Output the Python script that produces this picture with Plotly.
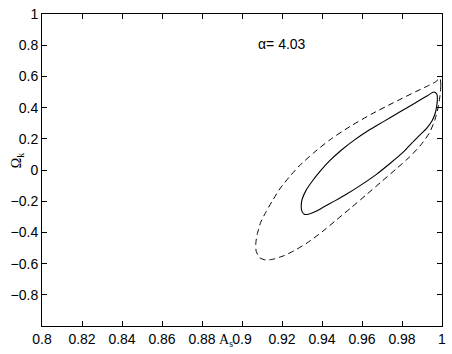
import plotly.graph_objects as go

# Inner (solid) contour
inner_x = [0.9959, 0.9974, 0.9977, 0.9974, 0.9966, 0.9949, 0.9924, 0.9890, 0.9850,
           0.9806, 0.9746, 0.9672, 0.9598, 0.9524, 0.9464, 0.9410, 0.9370, 0.9336,
           0.9311, 0.9299, 0.9296, 0.9301, 0.9321, 0.9351, 0.9390, 0.9440, 0.9499,
           0.9563, 0.9632, 0.9707, 0.9786, 0.9870, 0.9929, 0.9959]
inner_y = [0.500, 0.487, 0.459, 0.414, 0.364, 0.313, 0.269, 0.225, 0.174,
           0.114, 0.048, -0.028, -0.094, -0.154, -0.198, -0.236, -0.265, -0.282,
           -0.284, -0.262, -0.230, -0.186, -0.129, -0.072, -0.009, 0.061, 0.130,
           0.193, 0.253, 0.310, 0.370, 0.433, 0.478, 0.500]

# Outer (dashed) contour
outer_x = [0.9990, 0.9994, 0.9990, 0.9981, 0.9964, 0.9937, 0.9895, 0.9840, 0.9771,
           0.9697, 0.9623, 0.9548, 0.9474, 0.9400, 0.9326, 0.9261, 0.9210, 0.9158,
           0.9118, 0.9088, 0.9071, 0.9069, 0.9076, 0.9093, 0.9120, 0.9153, 0.9192,
           0.9237, 0.9286, 0.9359, 0.9441, 0.9540, 0.9647, 0.9755, 0.9870, 0.9929,
           0.9969, 0.9990]
outer_y = [0.589, 0.543, 0.478, 0.402, 0.320, 0.238, 0.162, 0.086, 0.007,
           -0.075, -0.157, -0.239, -0.318, -0.397, -0.467, -0.517, -0.549, -0.571,
           -0.577, -0.562, -0.521, -0.470, -0.413, -0.337, -0.268, -0.195, -0.116,
           -0.044, 0.026, 0.111, 0.195, 0.279, 0.358, 0.430, 0.503, 0.539,
           0.566, 0.589]

x_ticks = [0.8, 0.82, 0.84, 0.86, 0.88, 0.9, 0.92, 0.94, 0.96, 0.98, 1.0]
x_labels = ["0.8", "0.82", "0.84", "0.86", "0.88", "0.9", "0.92", "0.94", "0.96", "0.98", "1"]
y_ticks = [-0.8, -0.6, -0.4, -0.2, 0, 0.2, 0.4, 0.6, 0.8, 1.0]
y_labels = ["\u22120.8", "\u22120.6", "\u22120.4", "\u22120.2", "0", "0.2", "0.4", "0.6", "0.8", "1"]

fig = go.Figure()
fig.add_trace(go.Scatter(x=outer_x, y=outer_y, mode="lines",
                         line=dict(color="black", width=1, dash="6px,4px", shape="spline", smoothing=0.6),
                         hoverinfo="skip", showlegend=False))
fig.add_trace(go.Scatter(x=inner_x, y=inner_y, mode="lines",
                         line=dict(color="black", width=1.1, shape="spline", smoothing=0.6),
                         hoverinfo="skip", showlegend=False))

axis_common = dict(showgrid=False, zeroline=False, showline=True, linecolor="black",
                   linewidth=1, mirror="ticks", ticks="inside", ticklen=5,
                   tickcolor="black", tickfont=dict(family="Liberation Sans, Arial", size=14, color="black"))

fig.update_xaxes(range=[0.8, 1.0], tickvals=x_ticks, ticktext=x_labels, **axis_common)
fig.update_yaxes(range=[-1.0, 1.0], tickvals=y_ticks, ticktext=y_labels, **axis_common)

fig.add_annotation(x=0.892, y=0, xref="x", yref="paper", yshift=-25, text="A<sub>s</sub>",
                   showarrow=False, font=dict(family="Liberation Serif, Times New Roman", size=14, color="black"))
fig.add_annotation(x=0.9202, y=0.806, xref="x", yref="y", text="\u03b1= 4.03", showarrow=False,
                   font=dict(family="Liberation Sans, Arial", size=14, color="black"))
fig.add_annotation(x=0, y=0.53, xref="paper", yref="paper", xshift=-35, text="\u03a9<sub>k</sub>",
                   textangle=-90, showarrow=False,
                   font=dict(family="Liberation Serif, Times New Roman", size=14, color="black"))

fig.update_layout(width=452, height=354, margin=dict(l=42, r=6, t=9, b=28),
                  plot_bgcolor="white", paper_bgcolor="white")

fig.write_html("out.html", config={"displayModeBar": False},
               post_script="document.body.style.margin='0';document.body.style.overflow='hidden';")
